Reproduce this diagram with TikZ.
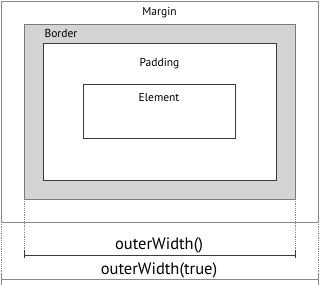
\documentclass[tikz,border=0pt]{standalone}
\usepackage{fontspec}
\setmainfont{PT Sans}
\usetikzlibrary{positioning}
\definecolor{frame}{HTML}{8A8A8A}
\definecolor{ink}{HTML}{3C3C3C}
\definecolor{shade}{HTML}{D4D4D4}
\tikzset{
  box/.style={rectangle, inner sep=0pt, outer sep=0pt, line width=1pt},
  guide/.style={frame, line width=0.8pt, dash pattern=on 1.2pt off 1pt},
  dimline/.style={line width=0.8pt},
  dimtext/.style={font=\fontsize{16.5}{18}\selectfont, anchor=base, inner sep=0pt},
}

\begin{document}
\begin{tikzpicture}[x=1pt, y=-1pt, font=\fontsize{11.5}{13}\selectfont]
    \useasboundingbox (0,0) rectangle (320,284);
    % nested boxes
    \node[box, draw=frame, minimum width=317pt, minimum height=221pt] (margin) at (159.5,111.5) {};
    \node[box, draw=frame!90!black, fill=shade, minimum width=271pt, minimum height=175pt] (border) at (159.5,111.5) {};
    \node[box, draw=ink, fill=white, minimum width=233pt, minimum height=137pt] (padding) at (159.5,111.5) {};
    \node[box, draw=ink, minimum width=152pt, minimum height=54pt] (element) at (159,111) {};
    \node[below=3pt of margin.north] (margintxt) {Margin};
    \node[anchor=north west] (bordertxt) at (41,26) {Border};
    \node[below=12pt of padding.north] (paddingtxt) {Padding};
    \node[below=6pt of element.north] (elementtxt) {Element};
    % outerWidth()
    \coordinate (wl) at (border.south west |- 0,255);
    \coordinate (wr) at (border.south east |- 0,255);
    \draw[guide] (border.south west) -- (wl);
    \draw[guide] (border.south east) -- (wr);
    \draw[ink, dimline] (wl) -- (wr);
    \draw[ink, dimline] (wl) ++(0,-5) -- ++(0,8) (wr) ++(0,-5) -- ++(0,8);
    \node[dimtext] (innerlbl) at (element.south |- 0,249) {outerWidth()};
    % outerWidth(true)
    \coordinate (tl) at (margin.south west |- 0,279);
    \coordinate (tr) at (margin.south east |- 0,279);
    \draw[guide] (margin.south west) -- (margin.south west |- 0,284);
    \draw[guide] (margin.south east) -- (margin.south east |- 0,284);
    \draw[frame, dimline] (tl) -- (tr);
    \draw[frame, dimline] (tl) ++(0,-5) -- ++(0,10) (tr) ++(0,-5) -- ++(0,10);
    \node[dimtext] (outerlbl) at (element.south |- 0,274.5) {outerWidth(true)};
\end{tikzpicture}
\end{document}
